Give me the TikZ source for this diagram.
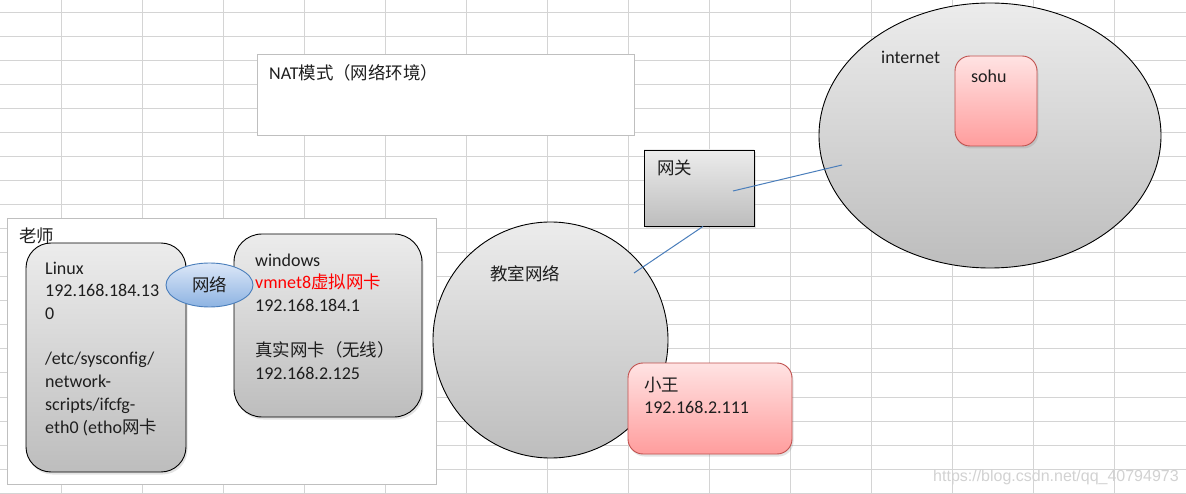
\documentclass[tikz,border=0pt]{standalone}
\usepackage{fontspec}
\setmainfont{Carlito}
\newfontfamily\cjk[Scale=0.97]{Noto Sans CJK SC}
\newfontfamily\wmfont{Liberation Sans}
\usetikzlibrary{shapes.geometric,shadows,calc}
\definecolor{Grid}{HTML}{D4D4D4}
\definecolor{Frame}{HTML}{BFBFBF}
\definecolor{GrayTop}{HTML}{ECECEC}
\definecolor{GrayBot}{HTML}{BDBDBD}
\definecolor{PinkTop}{HTML}{FFE3E3}
\definecolor{PinkBot}{HTML}{FF9D9D}
\definecolor{PinkRim}{HTML}{C0504D}
\definecolor{BlueTop}{HTML}{DCE7F8}
\definecolor{BlueBot}{HTML}{8DB3E2}
\definecolor{BlueRim}{HTML}{4A7EBB}
\definecolor{Wire}{HTML}{4A7EBB}
\definecolor{Ink}{HTML}{1E1E1E}
\definecolor{Mark}{HTML}{D2D2D2}
\newcommand\bodyfont{\fontsize{18}{22.7}\selectfont}
\tikzset{
 frame/.style={draw=Frame,fill=white,line width=1pt,inner sep=0pt},
 host/.style={draw=black,line width=0.9pt,top color=GrayTop,bottom color=GrayBot,inner sep=0pt},
 lifted/.style={drop shadow={opacity=.22,shadow xshift=1.5pt,shadow yshift=-2.5pt}},
 guest/.style={host,draw=PinkRim,top color=PinkTop,bottom color=PinkBot},
 cloud/.style={ellipse,host},
 bridge/.style={ellipse,draw=BlueRim,line width=0.9pt,top color=BlueTop,bottom color=BlueBot,
   inner sep=0pt,font=\bodyfont,text=Ink},
 txt/.style={font=\bodyfont,text=Ink,align=left,inner sep=0pt},
 wire/.style={draw=Wire,line width=1pt}
}
\begin{document}
\begin{tikzpicture}[x=1pt,y=-1pt]
\useasboundingbox (0,0) rectangle (1186,494);
\fill[white] (0,0) rectangle (1186,494);
% sheet grid
\foreach \gx in {0,...,13} \draw[Grid,line width=1pt] (61.5+81*\gx,0) -- (61.5+81*\gx,494);
\foreach \gy in {0,...,20} \draw[Grid,line width=1pt] (0,12.2+24.05*\gy) -- (1186,12.2+24.05*\gy);
% frames
\node[frame,minimum width=429pt,minimum height=265pt] (teacher) at (221.5,351.5) {};
\node[frame,minimum width=377pt,minimum height=81pt] (nat) at (445.5,95.5) {};
% machines
\node[host,lifted,rounded corners=25pt,minimum width=160pt,minimum height=229pt] (linux) at (106,357.5) {};
\node[host,lifted,rounded corners=28pt,minimum width=188pt,minimum height=183pt] (win) at (328,325.5) {};
\node[bridge,minimum width=87pt,minimum height=44pt] (vnet) at (209.5,285) {\cjk 网络};
\node[cloud,minimum width=235pt,minimum height=236pt] (classroom) at (550.5,340) {};
\node[host,lifted,minimum width=110pt,minimum height=76pt] (gateway) at (699,188) {};
\node[cloud,minimum width=342pt,minimum height=265pt] (internet) at (990,135.5) {};
\node[guest,lifted,rounded corners=15pt,minimum width=164pt,minimum height=91pt] (wang) at (710,408.5) {};
\node[guest,lifted,rounded corners=15pt,minimum width=82pt,minimum height=90pt] (sohu) at (996,101) {};
% links
\coordinate (inroom) at ([shift={(83.5,-67)}]classroom.center);
\coordinate (ingate) at ([shift={(34,3)}]gateway.center);
\coordinate (innet) at ([shift={(-148,29.5)}]internet.center);
\draw[wire] (inroom) -- ([xshift=4pt]gateway.south);
\draw[wire] (ingate) -- (innet);
% texts
\node[txt,anchor=base west] (teacherlbl) at (19,242.5) {\cjk 老师};
\node[txt,anchor=north west] (linuxtxt) at (45,258.1) {\strut Linux\\192.168.184.13\\0\\[22.7pt]/etc/sysconfig/\\network-\\scripts/ifcfg-\\eth0 (etho{\cjk 网卡}};
\node[txt,anchor=north west] (wintxt) at (255,250.1) {\strut windows\\\textcolor{red}{vmnet8{\cjk 虚拟网卡}}\\192.168.184.1\\[22.7pt]{\cjk 真实网卡（无线）}\\192.168.2.125};
\node[txt,anchor=base west] (roomlbl) at (490,280.5) {\cjk 教室网络};
\node[txt,anchor=base west] (gatelbl) at (657,175) {\cjk 网关};
\node[txt,anchor=north west] (wangtxt) at (644,375.1) {\strut{\cjk 小王}\\192.168.2.111};
\node[txt,anchor=base west] (netlbl) at (881,64) {internet};
\node[txt,anchor=base west] (sohulbl) at (971,83) {sohu};
\node[txt,anchor=base west] (natlbl) at (269,80) {NAT{\cjk 模式（网络环境）}};
\node[txt,anchor=base west,font=\wmfont\fontsize{16}{18}\selectfont,text=Mark] (mark) at (933,481) {https://blog.csdn.net/qq\_40794973};
\end{tikzpicture}
\end{document}
